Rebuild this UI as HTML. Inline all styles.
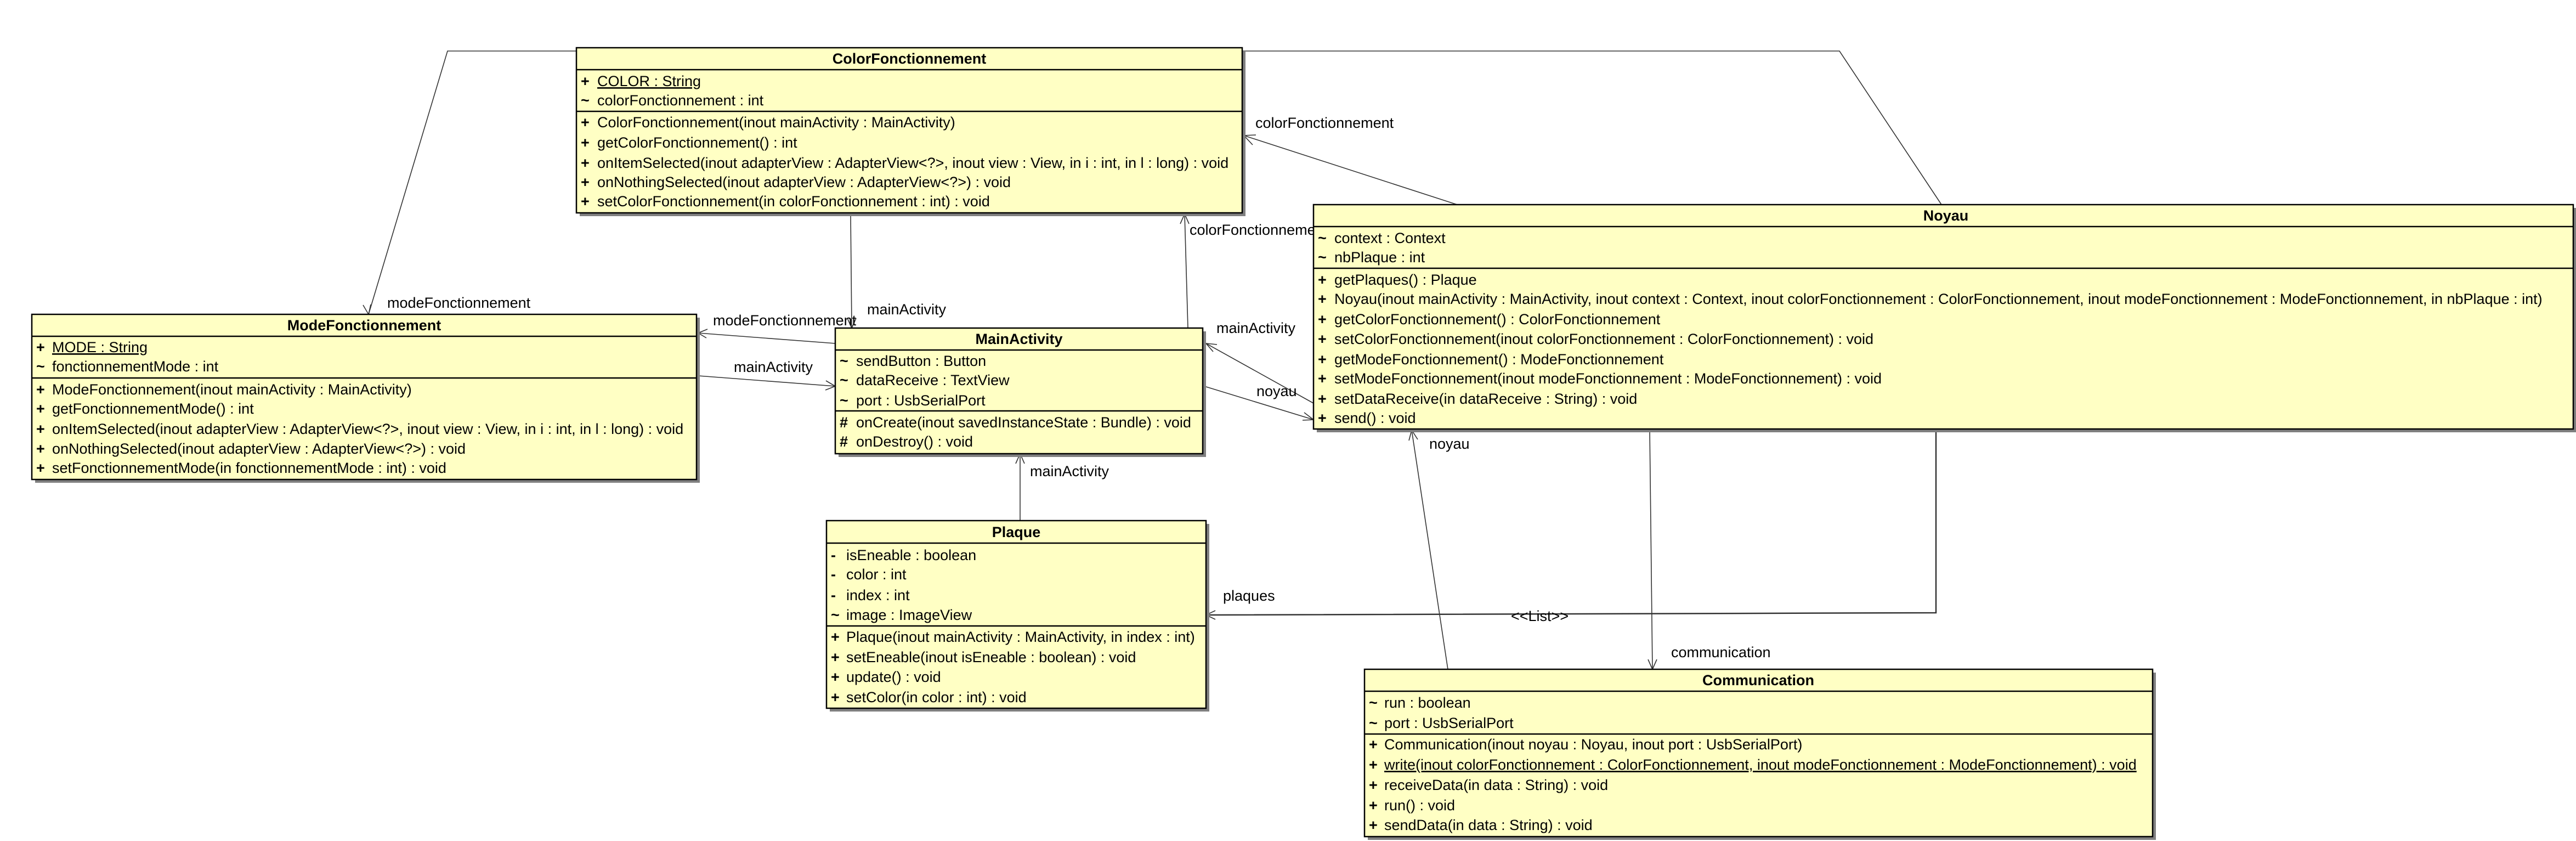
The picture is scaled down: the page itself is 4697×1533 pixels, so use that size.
<!DOCTYPE html>
<html><head><meta charset="utf-8"><style>
html,body{margin:0;padding:0;background:#fff;}
svg{display:block;}
text{font-family:"Liberation Sans",Arial,sans-serif;font-size:27px;fill:#000;}
.b{font-weight:bold;}
.s{font-weight:bold;}
.ln{stroke:#333;stroke-width:1.6;fill:none;}
.box{fill:#ffffc4;stroke:#000;stroke-width:2.5;}
.sh{fill:#808080;}
.sep{stroke:#000;stroke-width:2.5;}
</style></head><body>
<svg width="4697" height="1533" viewBox="0 0 4697 1533" xmlns="http://www.w3.org/2000/svg">
<!-- connectors -->
<polyline class="ln" points="3540,373 3354,93 816,93 672,573"/>
<path class="ln" d="M662,556 L672,573 L676,555"/>
<text x="706" y="561">modeFonctionnement</text>

<line class="ln" x1="2657" y1="373" x2="2268" y2="247"/>
<path class="ln" d="M2284,264 L2268,247 L2290,246"/>
<text x="2289" y="233">colorFonctionnement</text>

<line class="ln" x1="2166" y1="598" x2="2160" y2="390"/>
<path class="ln" d="M2152,408 L2160,390 L2168,408"/>
<text x="2169" y="428">colorFonctionnement</text>

<line class="ln" x1="1551" y1="390" x2="1553" y2="598"/>
<path class="ln" d="M1545,580 L1553,598 L1561,580"/>
<text x="1581" y="573">mainActivity</text>

<line class="ln" x1="1523" y1="626" x2="1273" y2="607"/>
<path class="ln" d="M1290,600 L1273,607 L1288,616"/>
<text x="1300" y="593">modeFonctionnement</text>

<line class="ln" x1="1273" y1="685" x2="1523" y2="704"/>
<path class="ln" d="M1506,694 L1523,704 L1505,711"/>
<text x="1338" y="678">mainActivity</text>

<line class="ln" x1="2395" y1="735" x2="2199" y2="626"/>
<path class="ln" d="M2212,641 L2199,626 L2219,628"/>
<text x="2218" y="607">mainActivity</text>

<line class="ln" x1="2199" y1="705" x2="2395" y2="765"/>
<path class="ln" d="M2378,752 L2395,765 L2375,766"/>
<text x="2291" y="722">noyau</text>

<line class="ln" x1="1860" y1="949" x2="1860" y2="827"/>
<path class="ln" d="M1852,845 L1860,827 L1868,845"/>
<text x="1878" y="868">mainActivity</text>

<line class="ln" x1="2640" y1="1220" x2="2574" y2="784"/>
<path class="ln" d="M2569,803 L2574,784 L2585,801"/>
<text x="2606" y="818">noyau</text>

<line class="ln" x1="3008" y1="782" x2="3013" y2="1220"/>
<path class="ln" d="M3005,1202 L3013,1220 L3021,1202"/>
<text x="3047" y="1198">communication</text>

<polyline class="ln" points="3530,782 3530,1117 2199,1121" style="stroke-width:2.5"/>
<path class="ln" d="M2216,1113 L2199,1121 L2216,1129"/>
<text x="2230" y="1095">plaques</text>
<text x="2755" y="1132">&lt;&lt;List&gt;&gt;</text>

<!-- ColorFonctionnement -->
<rect class="sh" x="1057" y="93" width="1214" height="301"/>
<rect class="box" x="1051" y="87" width="1214" height="301"/>
<line class="sep" x1="1051" y1="127" x2="2265" y2="127"/>
<line class="sep" x1="1051" y1="203" x2="2265" y2="203"/>
<text class="b" x="1658" y="116" text-anchor="middle">ColorFonctionnement</text>
<text class="s" x="1059" y="157">+</text><text x="1089" y="157" text-decoration="underline">COLOR : String</text>
<text class="s" x="1059" y="192">~</text><text x="1089" y="192">colorFonctionnement : int</text>
<text class="s" x="1059" y="232">+</text><text x="1089" y="232">ColorFonctionnement(inout mainActivity : MainActivity)</text>
<text class="s" x="1059" y="269">+</text><text x="1089" y="269">getColorFonctionnement() : int</text>
<text class="s" x="1059" y="306">+</text><text x="1089" y="306">onItemSelected(inout adapterView : AdapterView&lt;?&gt;, inout view : View, in i : int, in l : long) : void</text>
<text class="s" x="1059" y="341">+</text><text x="1089" y="341">onNothingSelected(inout adapterView : AdapterView&lt;?&gt;) : void</text>
<text class="s" x="1059" y="376">+</text><text x="1089" y="376">setColorFonctionnement(in colorFonctionnement : int) : void</text>

<!-- ModeFonctionnement -->
<rect class="sh" x="64" y="579" width="1212" height="301"/>
<rect class="box" x="58" y="573" width="1212" height="301"/>
<line class="sep" x1="58" y1="613" x2="1270" y2="613"/>
<line class="sep" x1="58" y1="689" x2="1270" y2="689"/>
<text class="b" x="664" y="602" text-anchor="middle">ModeFonctionnement</text>
<text class="s" x="66" y="642">+</text><text x="95" y="642" text-decoration="underline">MODE : String</text>
<text class="s" x="66" y="677">~</text><text x="95" y="677">fonctionnementMode : int</text>
<text class="s" x="66" y="719">+</text><text x="95" y="719">ModeFonctionnement(inout mainActivity : MainActivity)</text>
<text class="s" x="66" y="754">+</text><text x="95" y="754">getFonctionnementMode() : int</text>
<text class="s" x="66" y="791">+</text><text x="95" y="791">onItemSelected(inout adapterView : AdapterView&lt;?&gt;, inout view : View, in i : int, in l : long) : void</text>
<text class="s" x="66" y="827">+</text><text x="95" y="827">onNothingSelected(inout adapterView : AdapterView&lt;?&gt;) : void</text>
<text class="s" x="66" y="862">+</text><text x="95" y="862">setFonctionnementMode(in fonctionnementMode : int) : void</text>

<!-- MainActivity -->
<rect class="sh" x="1529" y="604" width="670" height="229"/>
<rect class="box" x="1523" y="598" width="670" height="229"/>
<line class="sep" x1="1523" y1="638" x2="2193" y2="638"/>
<line class="sep" x1="1523" y1="749" x2="2193" y2="749"/>
<text class="b" x="1858" y="627" text-anchor="middle">MainActivity</text>
<text class="s" x="1531" y="667">~</text><text x="1561" y="667">sendButton : Button</text>
<text class="s" x="1531" y="702">~</text><text x="1561" y="702">dataReceive : TextView</text>
<text class="s" x="1531" y="739">~</text><text x="1561" y="739">port : UsbSerialPort</text>
<text class="s" x="1531" y="779">#</text><text x="1561" y="779">onCreate(inout savedInstanceState : Bundle) : void</text>
<text class="s" x="1531" y="814">#</text><text x="1561" y="814">onDestroy() : void</text>

<!-- Noyau -->
<rect class="sh" x="2401" y="379" width="2296" height="409"/>
<rect class="box" x="2395" y="373" width="2297" height="409"/>
<line class="sep" x1="2395" y1="413" x2="4692" y2="413"/>
<line class="sep" x1="2395" y1="489" x2="4692" y2="489"/>
<text class="b" x="3548" y="402" text-anchor="middle">Noyau</text>
<text class="s" x="2403" y="443">~</text><text x="2433" y="443">context : Context</text>
<text class="s" x="2403" y="478">~</text><text x="2433" y="478">nbPlaque : int</text>
<text class="s" x="2403" y="519">+</text><text x="2433" y="519">getPlaques() : Plaque</text>
<text class="s" x="2403" y="554">+</text><text x="2433" y="554">Noyau(inout mainActivity : MainActivity, inout context : Context, inout colorFonctionnement : ColorFonctionnement, inout modeFonctionnement : ModeFonctionnement, in nbPlaque : int)</text>
<text class="s" x="2403" y="591">+</text><text x="2433" y="591">getColorFonctionnement() : ColorFonctionnement</text>
<text class="s" x="2403" y="627">+</text><text x="2433" y="627">setColorFonctionnement(inout colorFonctionnement : ColorFonctionnement) : void</text>
<text class="s" x="2403" y="664">+</text><text x="2433" y="664">getModeFonctionnement() : ModeFonctionnement</text>
<text class="s" x="2403" y="699">+</text><text x="2433" y="699">setModeFonctionnement(inout modeFonctionnement : ModeFonctionnement) : void</text>
<text class="s" x="2403" y="736">+</text><text x="2433" y="736">setDataReceive(in dataReceive : String) : void</text>
<text class="s" x="2403" y="771">+</text><text x="2433" y="771">send() : void</text>

<!-- Plaque -->
<rect class="sh" x="1513" y="955" width="692" height="342"/>
<rect class="box" x="1507" y="949" width="692" height="342"/>
<line class="sep" x1="1507" y1="990" x2="2199" y2="990"/>
<line class="sep" x1="1507" y1="1141" x2="2199" y2="1141"/>
<text class="b" x="1853" y="979" text-anchor="middle">Plaque</text>
<text class="s" x="1515" y="1021">-</text><text x="1543" y="1021">isEneable : boolean</text>
<text class="s" x="1515" y="1056">-</text><text x="1543" y="1056">color : int</text>
<text class="s" x="1515" y="1094">-</text><text x="1543" y="1094">index : int</text>
<text class="s" x="1515" y="1130">~</text><text x="1543" y="1130">image : ImageView</text>
<text class="s" x="1515" y="1170">+</text><text x="1543" y="1170">Plaque(inout mainActivity : MainActivity, in index : int)</text>
<text class="s" x="1515" y="1207">+</text><text x="1543" y="1207">setEneable(inout isEneable : boolean) : void</text>
<text class="s" x="1515" y="1243">+</text><text x="1543" y="1243">update() : void</text>
<text class="s" x="1515" y="1280">+</text><text x="1543" y="1280">setColor(in color : int) : void</text>

<!-- Communication -->
<rect class="sh" x="2494" y="1226" width="1437" height="305"/>
<rect class="box" x="2488" y="1220" width="1437" height="305"/>
<line class="sep" x1="2488" y1="1260" x2="3925" y2="1260"/>
<line class="sep" x1="2488" y1="1338" x2="3925" y2="1338"/>
<text class="b" x="3206" y="1249" text-anchor="middle">Communication</text>
<text class="s" x="2496" y="1290">~</text><text x="2524" y="1290">run : boolean</text>
<text class="s" x="2496" y="1327">~</text><text x="2524" y="1327">port : UsbSerialPort</text>
<text class="s" x="2496" y="1366">+</text><text x="2524" y="1366">Communication(inout noyau : Noyau, inout port : UsbSerialPort)</text>
<text class="s" x="2496" y="1403">+</text><text x="2524" y="1403" text-decoration="underline">write(inout colorFonctionnement : ColorFonctionnement, inout modeFonctionnement : ModeFonctionnement) : void</text>
<text class="s" x="2496" y="1440">+</text><text x="2524" y="1440">receiveData(in data : String) : void</text>
<text class="s" x="2496" y="1477">+</text><text x="2524" y="1477">run() : void</text>
<text class="s" x="2496" y="1513">+</text><text x="2524" y="1513">sendData(in data : String) : void</text>
</svg>
</body></html>
